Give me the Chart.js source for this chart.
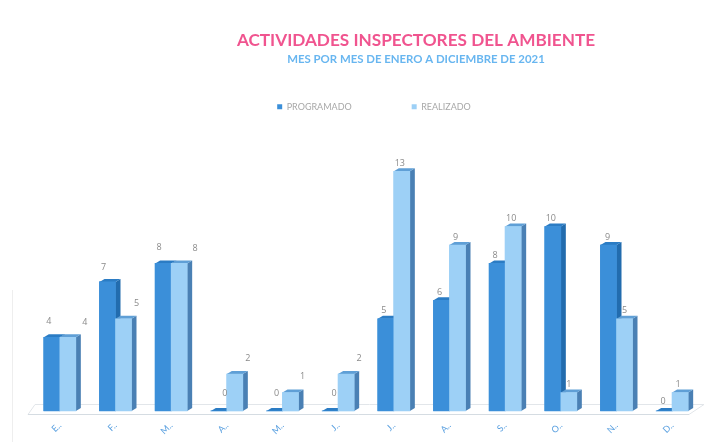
<!DOCTYPE html>
<html><head><meta charset="utf-8">
<script src="https://cdn.jsdelivr.net/npm/chart.js@4/dist/chart.umd.min.js"></script>
<style>html,body{margin:0;padding:0;background:#fff}#w{width:711px;height:442px;filter:blur(0.55px)}canvas{display:block}</style>
</head><body><div id="w"><canvas id="c" width="711" height="442"></canvas></div>
<script>
const categories = ["E..","F..","M..","A..","M..","J..","J..","A..","S..","O..","N..","D.."];
const programado = [4,7,8,0,0,0,5,6,8,10,9,0];
const realizado = [4,5,8,2,1,2,13,9,10,1,5,1];
const seriesNames = ["PROGRAMADO","REALIZADO"];
const labelShiftProgramado = [-3,-4,-4,6,2,4,-2,-2,-2,-2,-1,-1];
const labelShiftRealizado = [17,13,16,13,12,13,-2,-2,-2,0,0,-2];
const labelLiftProgramado = [16,14,16,18,18,18,8,8,8,8,8,10];
const labelLiftRealizado = [15,15,15,16,16,16,8,8,8,8,8,8];
const colFront = ["#3b8fd9","#9dd0f6"];
const colSide = ["#226cae","#4a80b4"];
const colTop = ["#2b7cc4","#5f9fd6"];
const dx = 5, dy = 3;

const depth = {
  id:'depth',
  afterLayout(chart){
    chart.boxes.forEach(b=>{
      if(b.options && b.options.text!==undefined && b.options.font && b.position==='top' && !b.legendItems){
        b.left+=50; b.right+=50; b.top+=10.5; b.bottom+=10.5;
      }
    });
    const l=chart.legend; l.left+=8; l.right+=8; l.top-=13; l.bottom-=13;
  },
  beforeDatasetsDraw(chart){
    const {ctx}=chart, a=chart.chartArea;
    ctx.save();
    ctx.strokeStyle='#e2e6ea';ctx.lineWidth=1;
    ctx.beginPath();ctx.moveTo(a.left-4,a.bottom+3.5);ctx.lineTo(a.left+3,a.bottom-6.5);ctx.lineTo(a.right+4,a.bottom-6.5);ctx.lineTo(a.right-11,a.bottom+3.5);ctx.closePath();ctx.stroke();
    ctx.strokeStyle='#d5dce2';ctx.beginPath();ctx.moveTo(a.left-4,a.bottom+3.5);ctx.lineTo(a.right-11,a.bottom+3.5);ctx.stroke();
    ctx.strokeStyle='#eeeeee';ctx.beginPath();ctx.moveTo(12.5,290);ctx.lineTo(12.5,442);ctx.stroke();
    ctx.restore();
  },
  afterDatasetsDraw(chart){
    const {ctx}=chart;
    [0,1].forEach(i=>{
      chart.getDatasetMeta(i).data.forEach(el=>{
        const hw=el.width/2, r=el.x+hw, l=el.x-hw, t=el.y, b=el.base;
        ctx.fillStyle=colSide[i];
        ctx.beginPath();ctx.moveTo(r,t);ctx.lineTo(r+dx,t-dy);ctx.lineTo(r+dx,b-dy);ctx.lineTo(r,b);ctx.closePath();ctx.fill();
        ctx.fillStyle=colTop[i];
        ctx.beginPath();ctx.moveTo(l,t);ctx.lineTo(l+dx,t-dy);ctx.lineTo(r+dx,t-dy);ctx.lineTo(r,t);ctx.closePath();ctx.fill();
        el.draw(ctx);
      });
    });
    const shifts=[labelShiftProgramado,labelShiftRealizado];
    const lifts=[labelLiftProgramado,labelLiftRealizado];
    ctx.save();
    ctx.font='9px "Open Sans"';ctx.fillStyle='#8a8a8a';ctx.textAlign='center';ctx.textBaseline='middle';
    [0,1].forEach(i=>{
      chart.getDatasetMeta(i).data.forEach((el,k)=>{
        const v=chart.data.datasets[i].data[k];
        ctx.fillText(String(v),el.x+shifts[i][k],el.y-lifts[i][k]);
      });
    });
    ctx.restore();
  }
};

new Chart(document.getElementById('c'),{
  type:'bar',
  data:{labels:categories,datasets:[
    {label:seriesNames[0],data:programado,backgroundColor:colFront[0],barThickness:16},
    {label:seriesNames[1],data:realizado,backgroundColor:colFront[1],barThickness:16}
  ]},
  plugins:[depth],
  options:{
    responsive:false,animation:false,
    layout:{padding:{left:32,right:11,top:0,bottom:0}},
    plugins:{
      tooltip:{enabled:false},
      title:{display:true,text:"ACTIVIDADES INSPECTORES DEL AMBIENTE",color:"#f0548f",font:{family:'Lato',size:17.2,weight:'bold'},padding:{top:20,bottom:0}},
      subtitle:{display:true,text:"MES POR MES DE ENERO A DICIEMBRE DE 2021",color:"#68b6f0",font:{family:'Lato',size:11.4,weight:'bold'},padding:{top:1,bottom:0}},
      legend:{display:true,position:'top',labels:{usePointStyle:true,pointStyle:'rect',boxWidth:5,boxHeight:5,padding:60,color:'#a8a8a8',font:{family:'Lato',size:9}}}
    },
    scales:{
      x:{grid:{display:false},border:{display:false},
         ticks:{color:'#5aa0e0',font:{family:'Lato',size:9},minRotation:45,maxRotation:45,padding:1},
         afterFit(s){s.height=31;}},
      y:{display:false,min:0,max:15}
    }
  }
});
</script></body></html>
